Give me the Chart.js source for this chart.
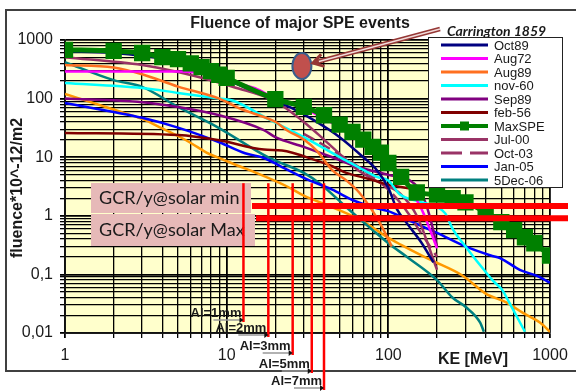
<!DOCTYPE html>
<html>
<head>
<meta charset="utf-8">
<script src="https://cdn.jsdelivr.net/npm/chart.js@4.4.0/dist/chart.umd.min.js"></script>
<style>
  html, body { margin: 0; padding: 0; background: #fff; }
  #chart { display: block; }
</style>
</head>
<body>
<canvas id="chart" width="576" height="391"></canvas>
<script>
// axis ticks (log-log)
const xTickValues = [1, 10, 100, 1000];
const xTickLabels = ['1', '10', '100', '1000'];
const yTickValues = [0.01, 0.1, 1, 10, 100, 1000];
const yTickLabels = ['0,01', '0,1', '1', '10', '100', '1000'];

// series: kinetic energy (MeV) / fluence (10^12 per m2)
const oct89E = [1, 2, 3, 5, 7, 10, 15, 20, 25, 35, 50, 70, 85, 100, 113, 130, 160, 190];
const oct89F = [640, 600, 540, 430, 320, 210, 130, 92, 70, 42, 22, 10, 6, 3, 1.3, 0.75, 0.35, 0.16];

const aug72E = [1, 3, 5, 6, 8, 10, 12, 15, 20, 30, 50, 70, 100, 130, 146, 165, 200];
const aug72F = [290, 290, 290, 285, 250, 210, 180, 150, 100, 68, 32, 17, 7, 3.5, 2.1, 1.1, 0.28];

const aug89E = [1, 2, 3, 5, 9, 12, 20, 24, 30, 36, 45, 55, 66, 80, 90, 105];
const aug89F = [375, 340, 260, 160, 100, 68, 40, 28, 20, 13, 6, 4, 2.5, 1.2, 0.7, 0.3];

const nov60E = [1, 3, 5, 9, 11, 18, 30, 50, 65, 85, 100, 118, 150, 200, 225, 250, 300, 390, 450, 505, 560, 700];
const nov60F = [185, 152, 125, 100, 92, 45, 22, 10, 6.8, 4.6, 4, 2.3, 1.8, 1.4, 1.1, 0.6, 0.3, 0.12, 0.075, 0.055, 0.033, 0.0105];

const sep89E = [1, 3, 5, 9, 17, 20, 30, 45, 65, 100, 136, 160, 180, 200];
const sep89F = [100, 87, 72, 52, 29, 22, 15, 10, 6.8, 5, 4, 2.5, 1, 0.3];

const feb56E = [1, 5, 9, 17, 22, 35, 45, 55, 75, 100, 140];
const feb56F = [26, 24, 19.5, 13.5, 13, 9, 7, 5.4, 4.3, 3.4, 2.9];

const maxSpeE = [1, 2, 3, 4, 5, 6, 7, 8, 9, 10, 20, 30, 40, 50, 60, 70, 80, 90, 100, 120, 150, 200, 250, 300, 400, 500, 600, 700, 800, 1000];
const maxSpeF = [680, 650, 600, 510, 470, 400, 345, 295, 255, 225, 98, 72, 52, 36, 27, 20, 15, 12, 8, 4.6, 2.5, 2.3, 2.0, 1.7, 1.15, 0.78, 0.57, 0.43, 0.34, 0.21];

const jul00E = [1, 3, 5, 8.7, 11, 20, 30, 40, 55, 65, 90, 118, 150, 200];
const jul00F = [510, 375, 284, 192, 158, 90, 40, 20, 9, 6, 3.6, 2.4, 1.0, 0.12];

const oct03E = [30, 40, 50, 70, 100, 130, 160, 200];
const oct03F = [25, 16, 11, 6, 2.8, 1.2, 0.5, 0.2];

const jan05E = [1, 2, 3, 5, 9, 13, 17, 22, 32, 45, 60, 80, 100, 120, 170, 200, 300, 430, 490, 650, 830, 1000];
const jan05F = [84, 59, 47, 32, 18, 11.7, 9.7, 6.8, 4.1, 2.8, 1.86, 1.4, 1.2, 0.96, 0.62, 0.51, 0.3, 0.21, 0.19, 0.12, 0.094, 0.072];

const dec06E = [1, 2, 3, 5, 8.7, 18, 30, 38, 55, 80, 100, 130, 200, 250, 300, 370, 390];
const dec06F = [420, 207, 158, 72, 33, 10, 5.4, 3.5, 1.4, 0.57, 0.34, 0.2, 0.08, 0.04, 0.028, 0.015, 0.0105];

// extra orange curve that has no legend entry
const extraE = [1, 2, 3, 4, 5, 6, 7.5, 8.7, 12, 15, 24, 30, 45, 70, 100, 120, 180, 290, 400, 540, 680, 870, 1000];
const extraF = [120, 65, 45, 31, 23, 17.5, 12, 10, 7, 5.5, 3.1, 2.2, 1.4, 0.8, 0.42, 0.32, 0.18, 0.094, 0.047, 0.033, 0.022, 0.015, 0.0105];

// annotations
const gcrLabels = ['GCR/y@solar min', 'GCR/y@solar Max'];
const gcrFluence = [1.47, 0.91];
const alLabels = ['Al=1mm', 'Al=2mm', 'Al=3mm', 'Al=5mm', 'Al=7mm'];
const alEnergy = [12.7, 18.1, 25.6, 33.6, 40];
const carrington = { label: 'Carrington 1859', E: 29.2, F: 360 };

function logGrid(min, max) {
  const out = [];
  for (let e = Math.round(Math.log10(min)); e < Math.round(Math.log10(max)); e++) {
    for (let m = 1; m <= 9; m++) out.push(Number((m * Math.pow(10, e)).toPrecision(6)));
  }
  out.push(max);
  return out;
}

function series(label, E, F, color, extra) {
  return Object.assign({
    label: label,
    data: E.map((x, i) => ({ x: x, y: F[i] })),
    borderColor: color,
    backgroundColor: color,
    borderWidth: 2.5,
    pointRadius: 0,
    cubicInterpolationMode: 'monotone',
    fill: false,
    order: 1
  }, extra || {});
}

const datasets = [
  series('Oct89', oct89E, oct89F, '#000080'),
  series('Aug72', aug72E, aug72F, '#FF00FF'),
  series('Aug89', aug89E, aug89F, '#FF7020'),
  series('nov-60', nov60E, nov60F, '#00FFFF'),
  series('Sep89', sep89E, sep89F, '#800080'),
  series('feb-56', feb56E, feb56F, '#800000'),
  series('MaxSPE', maxSpeE, maxSpeF, '#008000', { borderWidth: 5, pointRadius: 8, pointStyle: 'rect', order: 0 }),
  series('Jul-00', jul00E, jul00F, '#993366'),
  series('Oct-03', oct03E, oct03F, '#993366', { borderDash: [12, 6] }),
  series('Jan-05', jan05E, jan05F, '#0000FF'),
  series('5Dec-06', dec06E, dec06F, '#008080'),
  series('', extraE, extraF, '#FF9900', { hideInLegend: true, order: 2 })
];

const sans = '"Liberation Sans", Arial, sans-serif';

const decor = {
  id: 'decor',
  beforeDraw(chart) {
    const { ctx, chartArea: a } = chart;
    ctx.save();
    ctx.fillStyle = '#fff';
    ctx.fillRect(0, 0, chart.width, chart.height);
    ctx.fillStyle = '#FFFFCC';
    ctx.fillRect(a.left, a.top, a.right - a.left, a.bottom - a.top);
    ctx.restore();
  },
  afterDraw(chart) {
    const { ctx, chartArea: a, scales } = chart;
    const xs = scales.x, ys = scales.y;
    ctx.save();

    // outer frame
    ctx.strokeStyle = '#404040';
    ctx.lineWidth = 2;
    ctx.strokeRect(6, 10, 600, 361);

    // GCR boxes
    const boxes = [[91, 183, 160, 30], [91, 214, 164, 32]];
    ctx.font = '18px Lato, "Open Sans", sans-serif';
    ctx.textBaseline = 'middle';
    ctx.textAlign = 'left';
    boxes.forEach((b, i) => {
      ctx.fillStyle = '#E6B9B8';
      ctx.fillRect(b[0], b[1], b[2], b[3]);
      ctx.fillStyle = '#1a1a1a';
      ctx.fillText(gcrLabels[i], b[0] + 8, b[1] + b[3] / 2);
    });

    // GCR red lines
    ctx.strokeStyle = '#FF0000';
    ctx.lineWidth = 6;
    gcrFluence.forEach((f, i) => {
      const y = ys.getPixelForValue(f);
      ctx.beginPath();
      ctx.moveTo(boxes[i][0] + boxes[i][2] + 1, y);
      ctx.lineTo(a.right + 18, y);
      ctx.stroke();
    });

    // Al shielding cut-offs
    const alBottom = [-11, 4, 22, 40, 57];
    const yTop = ys.getPixelForValue(3.6);
    ctx.font = 'bold 13px ' + sans;
    ctx.textAlign = 'right';
    alEnergy.forEach((e, i) => {
      const x = xs.getPixelForValue(e);
      const yb = a.bottom + alBottom[i];
      ctx.strokeStyle = '#FF0000';
      ctx.lineWidth = 2.5;
      ctx.beginPath();
      ctx.moveTo(x, yTop);
      ctx.lineTo(x, yb);
      ctx.stroke();
      const ty = yb - 9;
      ctx.strokeStyle = '#999';
      ctx.lineWidth = 1.5;
      ctx.beginPath();
      ctx.moveTo(x - 30, ty + 7);
      ctx.lineTo(x - 2, ty + 7);
      ctx.stroke();
      ctx.fillStyle = '#111';
      ctx.beginPath();
      ctx.moveTo(x - 4, ty + 4);
      ctx.lineTo(x, ty + 7);
      ctx.lineTo(x - 4, ty + 10);
      ctx.fill();
      ctx.fillStyle = '#1a1a1a';
      ctx.fillText(alLabels[i], x - 2, ty);
    });

    // Carrington 1859 marker
    const cx = xs.getPixelForValue(carrington.E);
    const cy = ys.getPixelForValue(carrington.F);
    ctx.beginPath();
    ctx.ellipse(cx, cy, 9.5, 13, 0, 0, Math.PI * 2);
    ctx.fillStyle = '#C0504D';
    ctx.fill();
    ctx.strokeStyle = '#3A5F8C';
    ctx.lineWidth = 2;
    ctx.stroke();

    const tx = 440, ty = 29, hx = cx + 11, hy = cy - 3;
    ctx.lineCap = 'butt';
    ctx.strokeStyle = '#953735';
    ctx.lineWidth = 4.5;
    ctx.beginPath(); ctx.moveTo(tx, ty); ctx.lineTo(hx + 2, hy - 0.5); ctx.stroke();
    ctx.strokeStyle = '#F2DCDB';
    ctx.lineWidth = 1.5;
    ctx.beginPath(); ctx.moveTo(tx, ty); ctx.lineTo(hx + 6, hy - 1.6); ctx.stroke();
    const ang = Math.atan2(hy - ty, hx - tx);
    ctx.strokeStyle = '#953735';
    ctx.lineWidth = 3;
    ctx.beginPath();
    ctx.moveTo(hx - 12 * Math.cos(ang - 0.55), hy - 12 * Math.sin(ang - 0.55));
    ctx.lineTo(hx, hy);
    ctx.lineTo(hx - 12 * Math.cos(ang + 0.55), hy - 12 * Math.sin(ang + 0.55));
    ctx.stroke();

    ctx.fillStyle = '#1a1a1a';
    ctx.font = 'italic bold 14px Lato, sans-serif';
    ctx.textAlign = 'left';
    ctx.textBaseline = 'alphabetic';
    ctx.fillText(carrington.label, 447, 36);

    // legend
    const lx = 428, ly = 37, lw = 134, lh = 150;
    ctx.fillStyle = '#fff';
    ctx.fillRect(lx, ly, lw, lh);
    ctx.strokeStyle = '#222';
    ctx.lineWidth = 1;
    ctx.strokeRect(lx + 0.5, ly + 0.5, lw, lh);
    ctx.font = '13px ' + sans;
    ctx.textBaseline = 'middle';
    let row = 0;
    chart.data.datasets.forEach(d => {
      if (d.hideInLegend) return;
      const y = ly + 8 + row * 13.5;
      ctx.strokeStyle = d.borderColor;
      ctx.lineWidth = d.label === 'MaxSPE' ? 4 : 3;
      ctx.setLineDash(d.borderDash ? [21, 8] : []);
      ctx.beginPath();
      ctx.moveTo(lx + 13, y);
      ctx.lineTo(lx + 60, y);
      ctx.stroke();
      ctx.setLineDash([]);
      if (d.pointRadius > 0) {
        ctx.fillStyle = d.borderColor;
        ctx.fillRect(lx + 32, y - 4.5, 9, 9);
      }
      ctx.fillStyle = '#1a1a1a';
      ctx.fillText(d.label, lx + 66, y + 1);
      row++;
    });

    // titles
    ctx.fillStyle = '#1a1a1a';
    ctx.font = 'bold 16px ' + sans;
    ctx.textAlign = 'center';
    ctx.fillText('Fluence of major SPE events', 300, 24);
    ctx.fillText('KE [MeV]', 473, 360);
    ctx.translate(18, 188);
    ctx.rotate(-Math.PI / 2);
    ctx.fillText('fluence*10^-12/m2', 0, 0);

    ctx.restore();
  }
};

new Chart(document.getElementById('chart'), {
  type: 'line',
  data: { datasets: datasets },
  options: {
    responsive: false,
    animation: false,
    devicePixelRatio: 1,
    layout: { padding: { left: 0, top: 40, right: 26, bottom: 0 } },
    plugins: {
      legend: { display: false },
      title: { display: false },
      tooltip: { enabled: false }
    },
    scales: {
      x: {
        type: 'logarithmic',
        min: 1,
        max: 1000,
        afterBuildTicks: s => { s.ticks = logGrid(1, 1000).map(v => ({ value: v })); },
        afterFit: s => { s.height = 58; s.paddingLeft = 0; s.paddingRight = 0; },
        ticks: {
          autoSkip: false,
          maxRotation: 0,
          minRotation: 0,
          padding: 8,
          color: '#1a1a1a',
          font: { family: sans, size: 16 },
          callback: v => { const i = xTickValues.indexOf(v); return i < 0 ? '' : xTickLabels[i]; }
        },
        grid: {
          color: '#000',
          lineWidth: c => xTickValues.includes(c.tick && c.tick.value) ? 1.8 : 1.3,
          tickLength: 5
        },
        border: { color: '#111', width: 1.8 }
      },
      y: {
        type: 'logarithmic',
        min: 0.01,
        max: 1000,
        afterBuildTicks: s => { s.ticks = logGrid(0.01, 1000).map(v => ({ value: v })); },
        afterFit: s => { s.width = 65; s.paddingTop = 0; s.paddingBottom = 0; },
        ticks: {
          autoSkip: false,
          padding: 7,
          color: '#1a1a1a',
          font: { family: sans, size: 16 },
          callback: v => { const i = yTickValues.indexOf(v); return i < 0 ? '' : yTickLabels[i]; }
        },
        grid: {
          color: '#000',
          lineWidth: c => yTickValues.includes(c.tick && c.tick.value) ? 1.8 : 1.3,
          tickLength: 5
        },
        border: { color: '#111', width: 1.8 }
      }
    }
  },
  plugins: [decor]
});
</script>
</body>
</html>
